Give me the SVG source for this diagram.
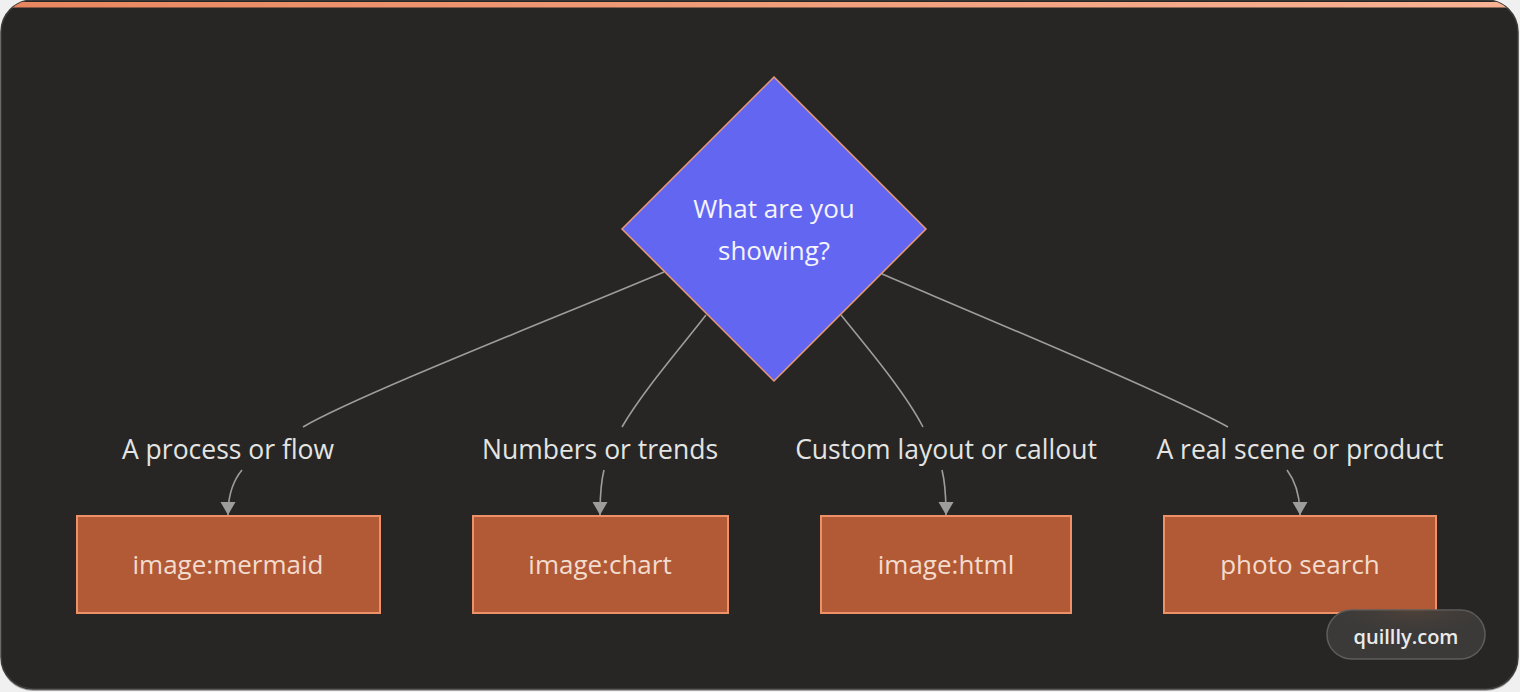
<svg xmlns="http://www.w3.org/2000/svg" width="1520" height="692" viewBox="0 0 1520 692">
  <defs>
    <linearGradient id="topbar" x1="0" y1="0" x2="1" y2="0">
      <stop offset="0" stop-color="#e8875f"/>
      <stop offset="1" stop-color="#f9b394"/>
    </linearGradient>
    <clipPath id="cardclip">
      <rect x="1" y="0" width="1517" height="689" rx="32" ry="32"/>
    </clipPath>
    <radialGradient id="pillglow" cx="0.55" cy="0" r="0.6">
      <stop offset="0" stop-color="#6a4a3a" stop-opacity="0.9"/>
      <stop offset="1" stop-color="#3b3a39" stop-opacity="0"/>
    </radialGradient>
    <marker id="arrow" markerWidth="16" markerHeight="16" refX="13" refY="7.5" orient="auto" markerUnits="userSpaceOnUse" viewBox="0 0 16 16">
      <path d="M0,0 L13,7.5 L0,15 z" fill="#9d9d9b"/>
    </marker>
    <style>
      .edge { fill: none; stroke: #9d9d9b; stroke-width: 1.6; }
      .elabel { font-family: "Open Sans", "Noto Sans", sans-serif; font-size: 26.5px; fill: #e4e4e2; text-anchor: middle; }
      .box { fill: #b25a35; stroke: #ee9068; stroke-width: 2; }
      .ntext { font-family: "Open Sans", "Noto Sans", sans-serif; font-size: 26px; fill: #f3dccf; text-anchor: middle; }
      .dtext { font-family: "Open Sans", "Noto Sans", sans-serif; font-size: 26px; fill: #f4f4ff; text-anchor: middle; }
    </style>
  </defs>

  <rect x="0" y="0" width="1520" height="692" fill="#f0f0f0"/>
  <!-- card -->
  <rect x="1" y="2" width="1517" height="689" rx="32" ry="32" fill="#7a7a7a" opacity="0.6"/>
  <rect x="1" y="0" width="1517" height="689" rx="32" ry="32" fill="#272625" stroke="#3e3c3a" stroke-width="1.5"/>
  <rect x="1" y="2" width="1517" height="5.5" fill="url(#topbar)" clip-path="url(#cardclip)"/>

  <g id="connectors">
    <path class="edge" d="M664,272 C560,316 360,394 303,427"/>
    <path class="edge" d="M706,315 C682,346 642,392 622,427"/>
    <path class="edge" d="M841,315 C866,346 905,392 923,427"/>
    <path class="edge" d="M882,274 C990,320 1170,395 1228,427"/>
    <path class="edge" d="M242,470 C232,482 228,496 228,515" marker-end="url(#arrow)"/>
    <path class="edge" d="M604,470 C601,482 600,496 600,515" marker-end="url(#arrow)"/>
    <path class="edge" d="M942,470 C945,482 946,496 946,515" marker-end="url(#arrow)"/>
    <path class="edge" d="M1287,470 C1296,482 1300,496 1300,515" marker-end="url(#arrow)"/>
    <text class="elabel" x="228" y="459">A process or flow</text>
    <text class="elabel" x="600" y="459">Numbers or trends</text>
    <text class="elabel" x="946" y="459">Custom layout or callout</text>
    <text class="elabel" x="1300" y="459">A real scene or product</text>
  </g>

  <g id="decision">
    <polygon points="774,77 926,229 774,381 622,229" fill="#6366f0" stroke="#e89a78" stroke-width="1.5"/>
    <text class="dtext" x="774" y="218">What are you</text>
    <text class="dtext" x="774" y="260">showing?</text>
  </g>

  <g id="mermaid">
    <rect class="box" x="77" y="516" width="303" height="97"/>
    <text class="ntext" x="228" y="574">image:mermaid</text>
  </g>
  <g id="chart">
    <rect class="box" x="473" y="516" width="255" height="97"/>
    <text class="ntext" x="600" y="574">image:chart</text>
  </g>
  <g id="html">
    <rect class="box" x="821" y="516" width="250" height="97"/>
    <text class="ntext" x="946" y="574">image:html</text>
  </g>
  <g id="photo">
    <rect class="box" x="1164" y="516" width="272" height="97"/>
    <text class="ntext" x="1300" y="574">photo search</text>
  </g>

  <g id="watermark">
    <rect x="1327" y="610" width="158" height="49" rx="24.5" ry="24.5" fill="#3b3a39" stroke="#5e5d5b" stroke-width="1.5"/>
    <rect x="1327" y="610" width="158" height="49" rx="24.5" ry="24.5" fill="url(#pillglow)" opacity="0.5"/>
    <text x="1406" y="644" font-family="Open Sans, Noto Sans, sans-serif" font-size="20" font-weight="600" fill="#ebebeb" text-anchor="middle">quillly.com</text>
  </g>
</svg>
